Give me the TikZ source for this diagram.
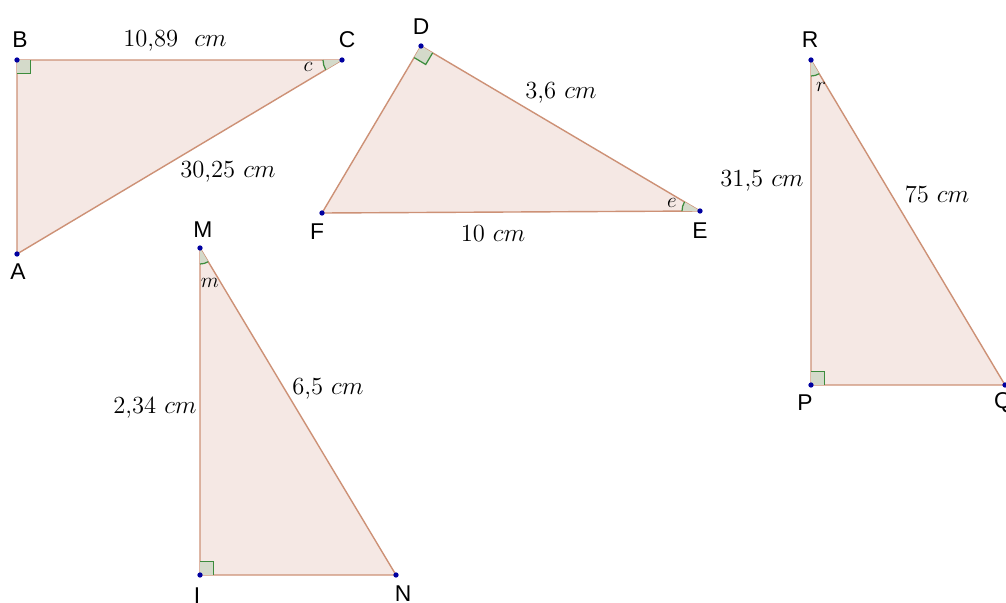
\documentclass[tikz,border=0pt]{standalone}
\usepackage{fontspec}
\newfontfamily\ptfont{Liberation Sans}
\usetikzlibrary{positioning,calc,angles}
\definecolor{triedge}{RGB}{205,145,118}
\definecolor{trifill}{RGB}{245,232,228}
\definecolor{anggreen}{RGB}{60,140,60}
\definecolor{angfill}{RGB}{212,218,202}
\definecolor{ptblue}{RGB}{0,0,160}

\begin{document}
\begin{tikzpicture}[x=0.02cm, y=-0.02cm,
    tri/.style={draw=triedge, fill=trifill, line width=0.8pt, line join=round},
    angmark/.style={draw=anggreen, fill=angfill, line width=0.7pt},
    ptname/.style={font=\ptfont\fontsize{13}{15}\selectfont, inner sep=0pt},
    len/.style={font=\fontsize{14}{16}\selectfont, inner sep=0pt},
    angname/.style={font=\fontsize{13}{15}\selectfont, inner sep=0pt}
]
\useasboundingbox (0,0) rectangle (1006,602);

% vertices
\coordinate (A) at (17,254);
\coordinate (B) at (17,60);
\coordinate (C) at (342,60);
\coordinate (D) at (421,46);
\coordinate (E) at (700,211);
\coordinate (F) at (322,213);
\coordinate (R) at (811,60);
\coordinate (P) at (811,385);
\coordinate (Q) at (1005,385);
\coordinate (M) at (200,248);
\coordinate (I) at (200,575);
\coordinate (N) at (396,575);

% triangles
\draw[tri] (A) -- (B) -- (C) -- cycle;
\draw[tri] (D) -- (E) -- (F) -- cycle;
\draw[tri] (R) -- (P) -- (Q) -- cycle;
\draw[tri] (M) -- (I) -- (N) -- cycle;

% angle marks
\pic[angmark, angle radius=0.27cm] {right angle=A--B--C};
\pic[angmark, angle radius=0.27cm] {right angle=F--D--E};
\pic[angmark, angle radius=0.27cm] {right angle=Q--P--R};
\pic[angmark, angle radius=0.27cm] {right angle=N--I--M};
\pic[angmark, angle radius=0.38cm] {angle=B--C--A};
\pic[angmark, angle radius=0.36cm] {angle=D--E--F};
\pic[angmark, angle radius=0.32cm] {angle=P--R--Q};
\pic[angmark, angle radius=0.32cm] {angle=I--M--N};

\foreach \v in {A,B,C,D,E,F,R,P,Q,M,I,N}
    \fill[ptblue] (\v) circle (1.5pt);

% point names
\node[ptname] (nB) at (20,40) {B};
\node[ptname] (nC) at (347,40) {C};
\node[ptname] (nA) at (18,272) {A};
\node[ptname] (nD) at (421,27) {D};
\node[ptname] (nF) at (317,232) {F};
\node[ptname] (nE) at (700,231) {E};
\node[ptname] (nR) at (810,40) {R};
\node[ptname] (nP) at (805,403) {P};
\node[ptname] (nQ) at (1003,403) {Q};
\node[ptname] (nM) at (203,230) {M};
\node[ptname] (nI) at (197,596) {I};
\node[ptname] (nN) at (403,594) {N};

% angle names
\node[angname] (ac) at (308,67) {$c$};
\node[angname] (ae) at (672,203) {$e$};
\node[angname] (ar) at (821,87) {$r$};
\node[angname] (am) at (210,283) {$m$};

% side lengths
\node[len] (lBC) at (175,41) {10,89~~$cm$};
\node[len] (lAC) at (228,172) {30,25 $cm$};
\node[len] (lDE) at (561,93) {3,6 $cm$};
\node[len] (lEF) at (493,234) {10 $cm$};
\node[len] (lRP) at (762,181) {31,5 $cm$};
\node[len] (lRQ) at (937,194) {75 $cm$};
\node[len] (lMI) at (155,408) {2,34 $cm$};
\node[len] (lMN) at (328,389) {6,5 $cm$};
\end{tikzpicture}
\end{document}
